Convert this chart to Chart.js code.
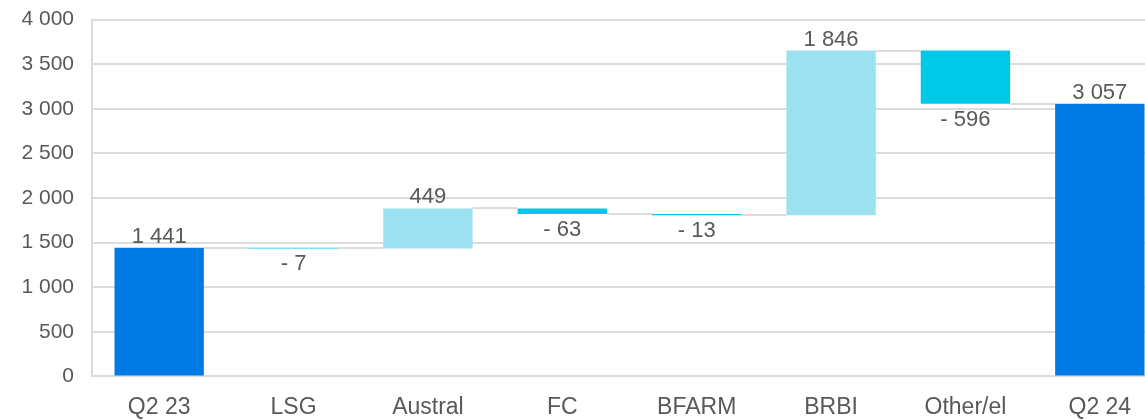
<!DOCTYPE html>
<html>
<head>
<meta charset="utf-8">
<script src="https://cdn.jsdelivr.net/npm/chart.js@4.4.1/dist/chart.umd.min.js"></script>
<style>
  html, body { margin: 0; padding: 0; background: #fff; overflow: hidden; }
  #wrap { width: 1167px; height: 449px; margin-top: -11px; }
</style>
</head>
<body>
<div id="wrap"><canvas id="Chart-1" width="1167" height="449"></canvas></div>
<script>
var labels = ["Q2 23", "LSG", "Austral", "FC", "BFARM", "BRBI", "Other/el", "Q2 24"];
var changes = [1441, -7, 449, -63, -13, 1846, -596, 3057];
var isTotal = [true, false, false, false, false, false, false, true];
var yTicks = [0, 500, 1000, 1500, 2000, 2500, 3000, 3500, 4000];

var totalColor = "#007be6";
var upColor = "#9ce1f0";
var downColor = "#00c8e9";
var gridColor = "#dcdcdc";
var textColor = "#595959";
var fontFamily = "'Liberation Sans', Arial, sans-serif";

// running level -> floating bar ranges
var ranges = [];
var levels = [];
var level = 0;
for (var i = 0; i < changes.length; i++) {
  if (isTotal[i]) {
    ranges.push([0, changes[i]]);
    level = changes[i];
  } else {
    ranges.push([level, level + changes[i]]);
    level += changes[i];
  }
  levels.push(level);
}

var colors = changes.map(function (v, i) {
  if (isTotal[i]) return totalColor;
  return v < 0 ? downColor : upColor;
});

function fmt(n) {
  var s = String(Math.abs(n)).replace(/\B(?=(\d{3})+(?!\d))/g, " ");
  return n < 0 ? "- " + s : s;
}

// thin gray steps between neighbouring bars
var connectors = {
  id: "connectors",
  beforeDatasetsDraw: function (chart) {
    var meta = chart.getDatasetMeta(0);
    var y = chart.scales.y;
    var ctx = chart.ctx;
    ctx.save();
    ctx.strokeStyle = gridColor;
    ctx.lineWidth = 2;
    for (var i = 0; i < meta.data.length - 1; i++) {
      var a = meta.data[i], b = meta.data[i + 1];
      var py = Math.round(y.getPixelForValue(levels[i]));
      ctx.beginPath();
      ctx.moveTo(a.x + a.width / 2, py);
      ctx.lineTo(b.x - b.width / 2, py);
      ctx.stroke();
    }
    ctx.restore();
  }
};

// value labels above rising bars, below falling ones
var valueLabels = {
  id: "valueLabels",
  afterDatasetsDraw: function (chart) {
    var meta = chart.getDatasetMeta(0);
    var y = chart.scales.y;
    var ctx = chart.ctx;
    ctx.save();
    ctx.font = "22px " + fontFamily;
    ctx.fillStyle = textColor;
    ctx.textAlign = "center";
    ctx.textBaseline = "alphabetic";
    for (var i = 0; i < meta.data.length; i++) {
      var bar = meta.data[i];
      var r = ranges[i];
      if (changes[i] < 0) {
        ctx.fillText(fmt(changes[i]), bar.x, y.getPixelForValue(Math.min(r[0], r[1])) + 22);
      } else {
        ctx.fillText(fmt(changes[i]), bar.x, y.getPixelForValue(Math.max(r[0], r[1])) - 5);
      }
    }
    ctx.restore();
  }
};

new Chart("Chart-1", {
  type: "bar",
  data: {
    labels: labels,
    datasets: [{
      data: ranges,
      backgroundColor: colors,
      borderWidth: 0,
      barPercentage: 0.665,
      categoryPercentage: 1
    }]
  },
  plugins: [connectors, valueLabels],
  options: {
    responsive: false,
    animation: false,
    devicePixelRatio: 1,
    layout: { padding: { top: 9, left: 0, right: 0, bottom: 0 } },
    plugins: {
      legend: { display: false },
      tooltip: { enabled: false }
    },
    scales: {
      x: {
        grid: { display: false, drawTicks: false },
        border: { display: false },
        ticks: {
          color: textColor,
          padding: 17,
          font: { family: fontFamily, size: 23 }
        }
      },
      y: {
        min: 0,
        max: 4000,
        afterBuildTicks: function (scale) {
          scale.ticks = yTicks.map(function (v) { return { value: v }; });
        },
        afterFit: function (scale) { scale.width = 92; },
        grid: { color: gridColor, lineWidth: 2, drawTicks: false },
        border: { display: true, color: gridColor, width: 2 },
        ticks: {
          color: textColor,
          padding: 18,
          font: { family: fontFamily, size: 21 },
          callback: function (v) { return fmt(v); }
        }
      }
    }
  }
});
</script>
</body>
</html>
